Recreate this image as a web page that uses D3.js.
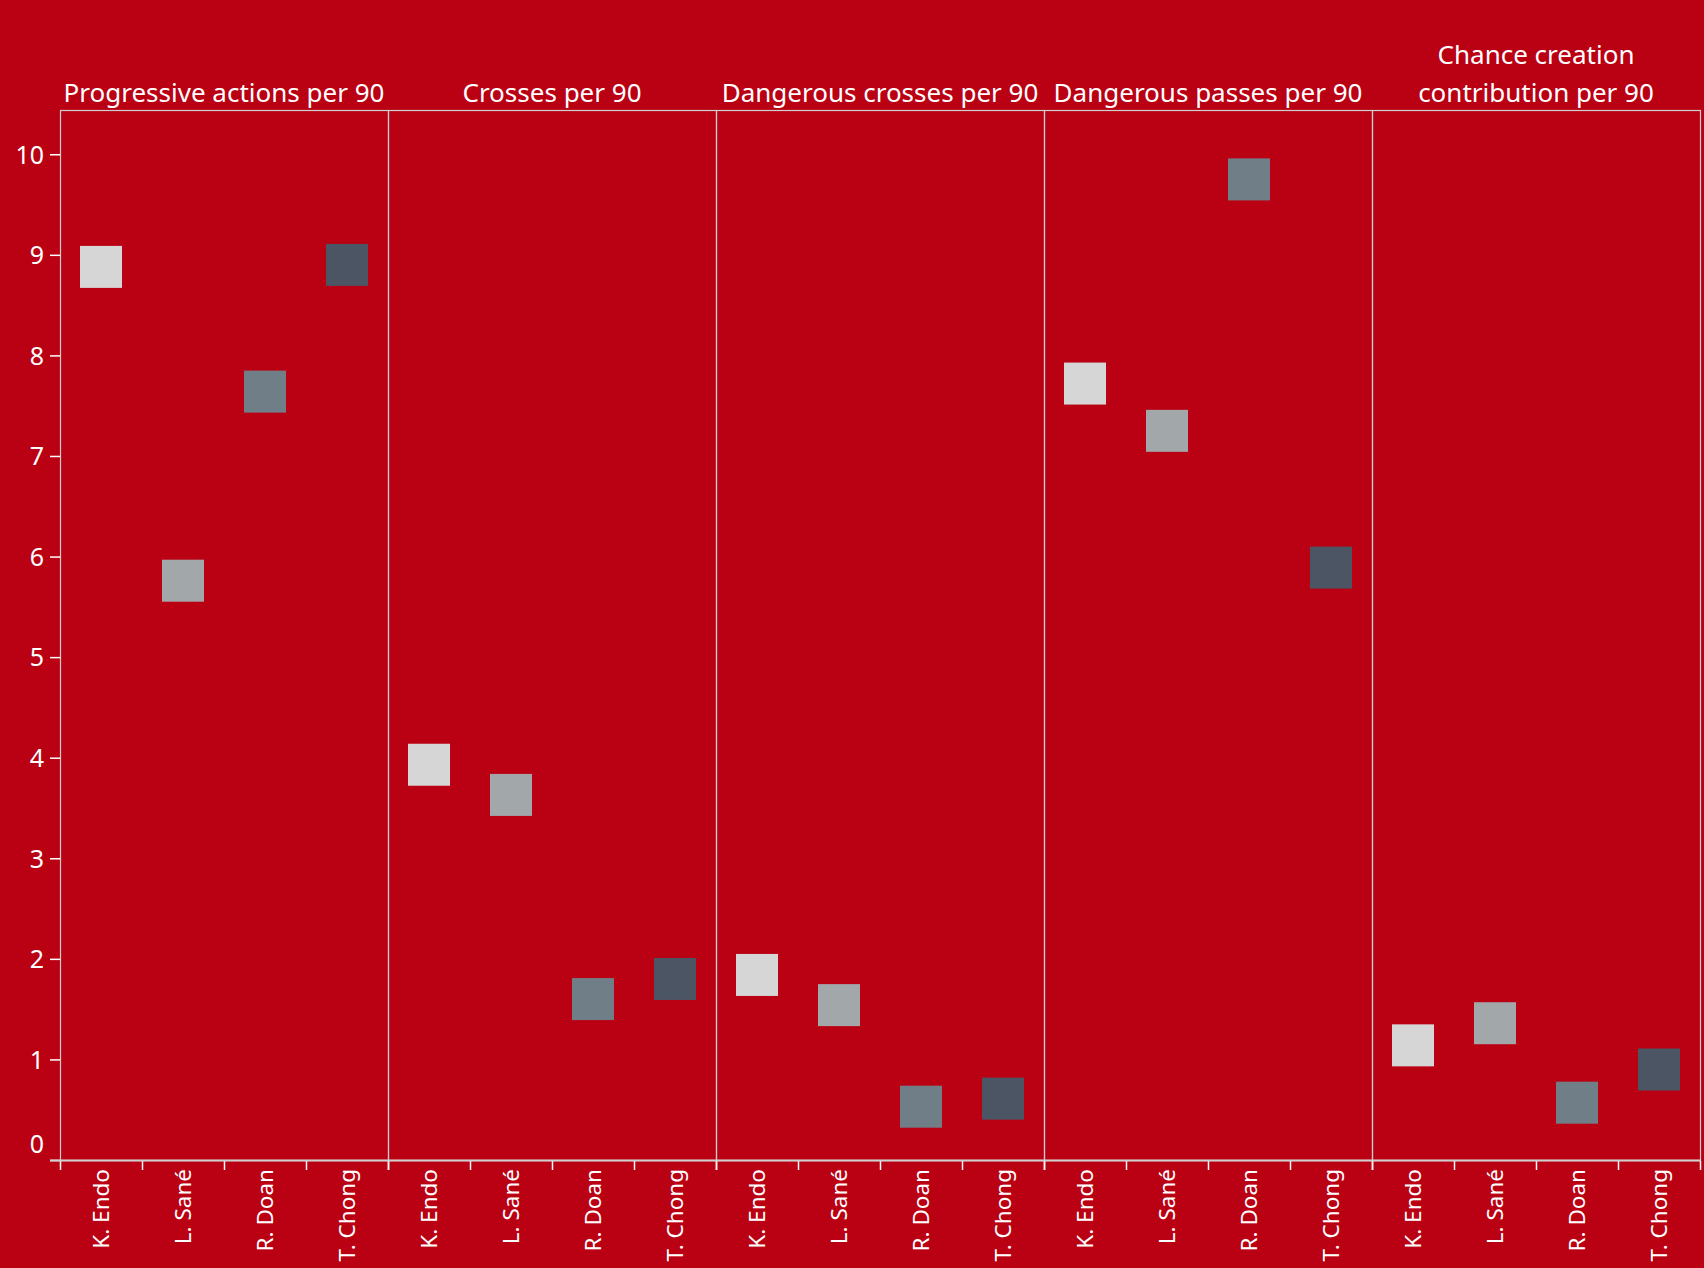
<!DOCTYPE html>
<html>
<head>
<meta charset="utf-8">
<script src="https://cdn.jsdelivr.net/npm/d3@7"></script>
<style>
  html, body { margin: 0; padding: 0; background: #ba0013; }
  svg { display: block; }
  text { font-family: "Noto Sans", sans-serif; fill: #ffffff; }
</style>
</head>
<body>
<div class="chart"></div>
<script>
let metrics = [
  'Progressive actions per 90',
  'Crosses per 90',
  'Dangerous crosses per 90',
  'Dangerous passes per 90',
  'Chance creation contribution per 90'
];
let titleLines = [
  ['Progressive actions per 90'],
  ['Crosses per 90'],
  ['Dangerous crosses per 90'],
  ['Dangerous passes per 90'],
  ['Chance creation', 'contribution per 90']
];
let players = ['K. Endo', 'L. Sané', 'R. Doan', 'T. Chong'];
let playerColors = ['#d6d6d6', '#a2a8aa', '#707f87', '#4c5564'];

// one row per player, values in metric order
let kEndo = [8.88, 3.93, 1.84, 7.72, 1.14];
let lSane = [5.76, 3.63, 1.54, 7.25, 1.36];
let rDoan = [7.64, 1.60, 0.53, 9.75, 0.57];
let tChong = [8.90, 1.80, 0.61, 5.89, 0.90];

let yTicks = [0, 1, 2, 3, 4, 5, 6, 7, 8, 9, 10];

let seriesValues = [kEndo, lSane, rDoan, tChong];

let width = 1704, height = 1268;
let plotL = 60, plotR = 1700, plotT = 110, plotB = 1160;

let svg = d3.select('.chart')
  .append('svg')
  .attr('width', width)
  .attr('height', height);

let x = d3.scaleBand()
  .domain(metrics)
  .range([plotL, plotR]);

let xInner = d3.scaleBand()
  .domain(players)
  .range([0, x.bandwidth()]);

let y = d3.scaleLinear()
  .domain([0, 10.44])
  .range([plotB, plotT]);

let color = d3.scaleOrdinal()
  .domain(players)
  .range(playerColors);

// Build flat point list
let points = [];
players.forEach(function (p, i) {
  metrics.forEach(function (m, j) {
    points.push({ player: p, metric: m, value: seriesValues[i][j] });
  });
});

// panel frames
svg.append('g')
  .selectAll('rect')
  .data(metrics)
  .join('rect')
  .attr('x', d => x(d) + 0.5)
  .attr('y', plotT + 0.5)
  .attr('width', x.bandwidth())
  .attr('height', plotB - plotT)
  .attr('fill', 'none')
  .attr('stroke', '#cfcfcf')
  .attr('stroke-width', 1.2);

// panel titles
let titles = svg.append('g')
  .selectAll('text')
  .data(metrics)
  .join('text')
  .attr('x', d => x(d) + x.bandwidth() / 2)
  .attr('text-anchor', 'middle')
  .style('font-size', '26px');

titles.each(function (d, i) {
  let lines = titleLines[i];
  let t = d3.select(this);
  lines.forEach(function (ln, k) {
    t.append('tspan')
      .attr('x', x(d) + x.bandwidth() / 2)
      .attr('y', 102 - (lines.length - 1 - k) * 38)
      .text(ln);
  });
});

// y axis
let yAxis = svg.append('g')
  .attr('transform', 'translate(' + plotL + ',0)')
  .call(d3.axisLeft(y).tickValues(yTicks).tickSize(10).tickPadding(6).tickFormat(d3.format('d')));
yAxis.select('.domain').remove();
yAxis.selectAll('.tick line').attr('stroke', '#ffffff').attr('stroke-width', 1.5);
yAxis.selectAll('.tick text')
  .attr('fill', '#ffffff')
  .style('font-size', '25px')
  .attr('dy', d => d === 0 ? '-0.3em' : '0.35em');

// x axis per panel
metrics.forEach(function (m) {
  let ax = svg.append('g')
    .attr('transform', 'translate(' + x(m) + ',' + plotB + ')')
    .call(d3.axisBottom(xInner).tickSize(0).tickPadding(0));
  ax.select('.domain').remove();
  ax.selectAll('.tick text')
    .attr('fill', '#ffffff')
    .style('font-size', '22.5px')
    .attr('transform', 'rotate(-90)')
    .attr('text-anchor', 'end')
    .attr('x', -9)
    .attr('y', 0)
    .attr('dy', '0.35em');
  // boundary ticks
  let edges = players.map(p => xInner(p)).concat([x.bandwidth()]);
  ax.selectAll('line.edge')
    .data(edges)
    .join('line')
    .attr('class', 'edge')
    .attr('x1', d => d + 0.5)
    .attr('x2', d => d + 0.5)
    .attr('y1', 1)
    .attr('y2', 10)
    .attr('stroke', '#ffffff')
    .attr('stroke-width', 1.5);
});

// bottom axis line
svg.append('line')
  .attr('x1', plotL - 10)
  .attr('x2', plotR)
  .attr('y1', plotB + 0.5)
  .attr('y2', plotB + 0.5)
  .attr('stroke', '#d0d0d0')
  .attr('stroke-width', 2);

// squares
let size = 42;
svg.append('g')
  .selectAll('rect')
  .data(points)
  .join('rect')
  .attr('x', d => x(d.metric) + xInner(d.player) + xInner.bandwidth() / 2 - size / 2)
  .attr('y', d => y(d.value) - size / 2)
  .attr('width', size)
  .attr('height', size)
  .attr('fill', d => color(d.player));
</script>
</body>
</html>
